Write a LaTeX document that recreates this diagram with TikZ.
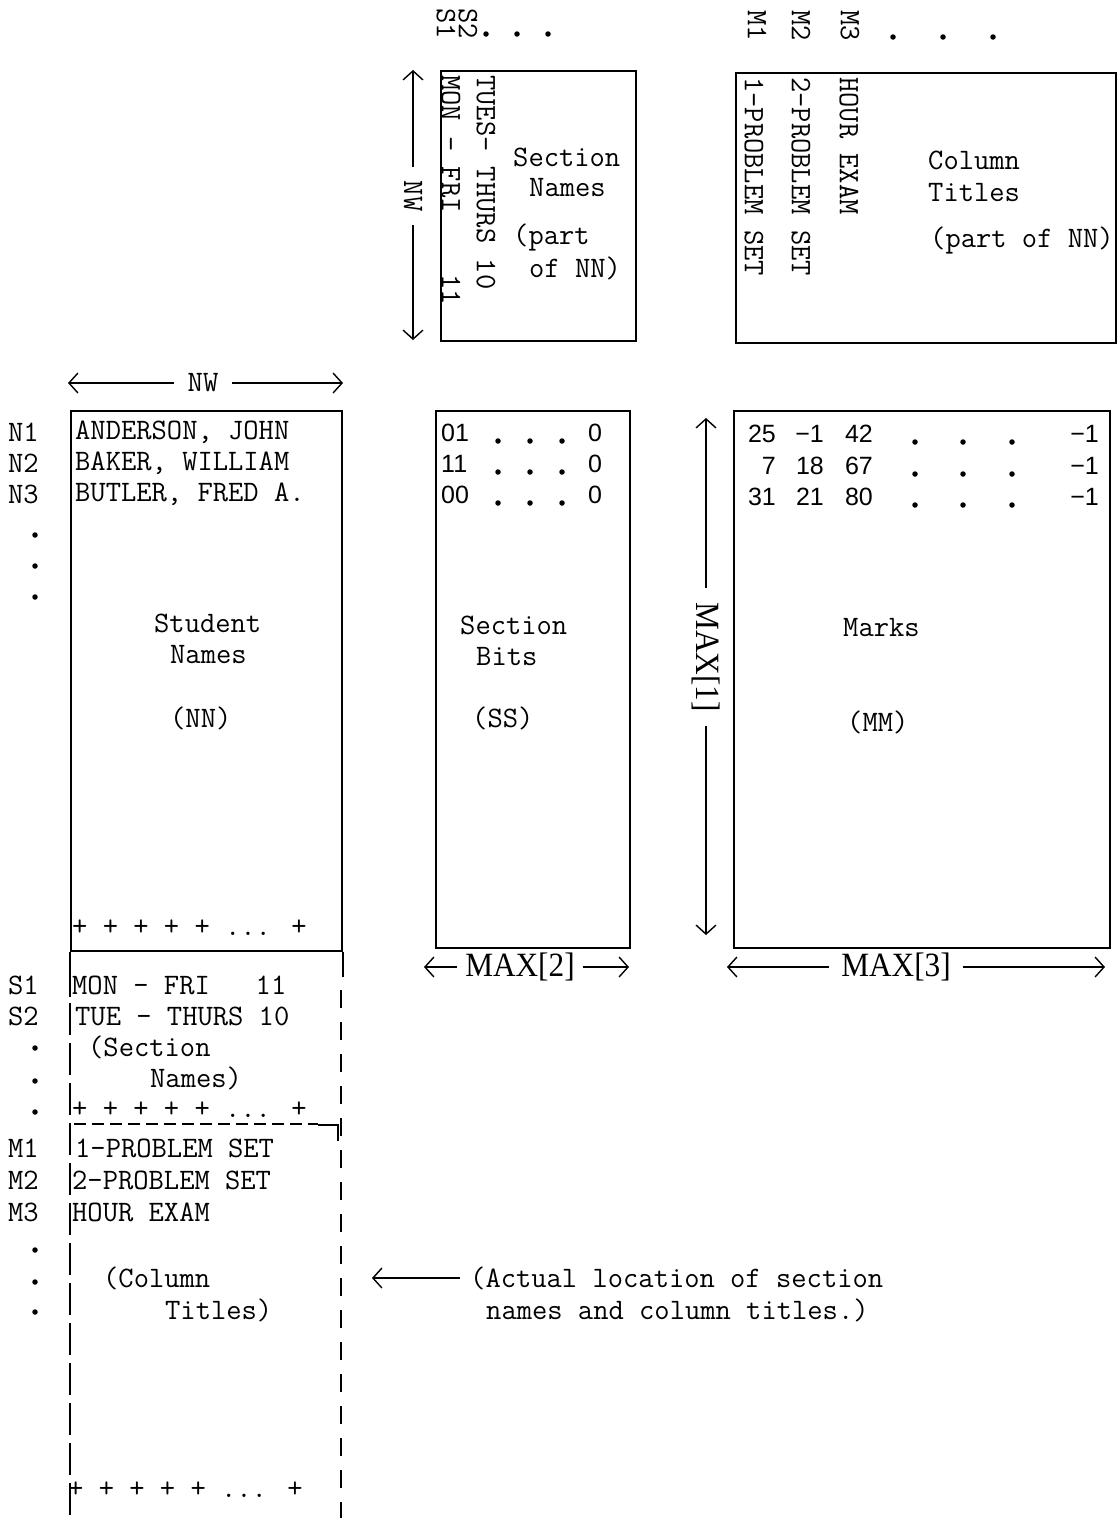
\documentclass[tikz,border=0pt]{standalone}
\usepackage{fontspec}
\usepackage{graphicx}
\newfontfamily\sdig{Liberation Sans}
\newfontfamily\letr{Liberation Serif}
\usetikzlibrary{arrows.meta}
\newcommand\mxl[1]{\scalebox{0.92}[1]{#1}}
\begin{document}
\begin{tikzpicture}[x=1pt,y=-1pt,
  tt/.style={font=\ttfamily\fontsize{29.7}{31}\selectfont, inner sep=0pt},
  dig/.style={font=\sdig\fontsize{25}{31}\selectfont, inner sep=0pt},
  lab/.style={font=\letr\fontsize{34}{34}\selectfont, inner sep=8pt},
  boxs/.style={draw, line width=2pt, inner sep=0pt, anchor=north west},
  arr/.style={line width=1.4pt, -{Straight Barb[length=9pt,width=20pt,line width=1.4pt]}},
  dotn/.style={circle, fill, inner sep=0pt, minimum size=5.5pt}
]
\useasboundingbox (0,0) rectangle (1119,1518);

% ---------- top: section names ----------
\node[tt, rotate=-90, anchor=west] (ls1) at (446,8) {S1};
\node[tt, rotate=-90, anchor=west] (ls2) at (468,8) {S2};
\node[dotn] (sd1) at (486,34) {};
\node[dotn] (sd2) at (517,34) {};
\node[dotn] (sd3) at (548,34) {};

\node[boxs, minimum width=195pt, minimum height=270pt] (snbox) at (440,70) {};
\node[tt, rotate=-90, anchor=west] (mon) at (451,75) {MON - FRI~~~~11};
\node[tt, rotate=-90, anchor=west] (tues) at (486,75) {TUES- THURS 10};
\node[tt, anchor=west] (snt1) at (513,157) {Section};
\node[tt, anchor=west] (snt2) at (529,188) {Names};
\node[tt, anchor=west] (snt3) at (513,237) {(part};
\node[tt, anchor=west] (snt4) at (529,268) {of NN)};

\coordinate (nwt) at (413,70);
\coordinate (nwb) at (413,340);
\node[tt, rotate=-90, inner sep=14pt] (nwv) at (413,196) {NW};
\draw[arr] (nwv) -- (nwt);
\draw[arr] (nwv) -- (nwb);

% ---------- top: column titles ----------
\node[tt, rotate=-90, anchor=west] (lm1) at (757,10) {M1};
\node[tt, rotate=-90, anchor=west] (lm2) at (801,10) {M2};
\node[tt, rotate=-90, anchor=west] (lm3) at (850,10) {M3};
\node[dotn] (md1) at (893,37) {};
\node[dotn] (md2) at (943,37) {};
\node[dotn] (md3) at (993,37) {};

\node[boxs, minimum width=380pt, minimum height=270pt] (ctbox) at (735,72) {};
\node[tt, rotate=-90, anchor=west] (ct1) at (754,77) {1-PROBLEM SET};
\node[tt, rotate=-90, anchor=west] (ct2) at (801,77) {2-PROBLEM SET};
\node[tt, rotate=-90, anchor=west] (ct3) at (849,77) {HOUR EXAM};
\node[tt, anchor=west] (ctt1) at (928,160) {Column};
\node[tt, anchor=west] (ctt2) at (928,193) {Titles};
\node[tt, anchor=west] (ctt3) at (930,240) {(part of NN)};

% ---------- student names ----------
\coordinate (nwl) at (68,383);
\coordinate (nwr) at (343,383);
\node[tt, inner sep=14pt] (nwh) at (203,383) {NW};
\draw[arr] (nwh) -- (nwl);
\draw[arr] (nwh) -- (nwr);

\node[boxs, minimum width=271pt, minimum height=540pt] (nnbox) at (70,410) {};
\node[tt, anchor=west] (ln1) at (8,432) {N1};
\node[tt, anchor=west] (ln2) at (8,463) {N2};
\node[tt, anchor=west] (ln3) at (8,494) {N3};
\node[dotn] (nd1) at (35,535) {};
\node[dotn] (nd2) at (35,566) {};
\node[dotn] (nd3) at (35,597) {};
\node[tt, anchor=west] (nm1) at (75,432) {ANDERSON, JOHN};
\node[tt, anchor=west] (nm2) at (75,463) {BAKER, WILLIAM};
\node[tt, anchor=west] (nm3) at (75,494) {BUTLER, FRED A.};
\node[tt, anchor=west] (stu1) at (154,623) {Student};
\node[tt, anchor=west] (stu2) at (170,655) {Names};
\node[tt, anchor=west] (stu3) at (170,718) {(NN)};
\node[tt, anchor=west] (pl1) at (72,928) {+ + + + + ... +};

% ---------- section bits ----------
\node[boxs, minimum width=194pt, minimum height=537pt] (ssbox) at (435,410) {};
\foreach \y/\v [count=\i] in {433/01, 464/11, 495/00}{
  \node[dig, anchor=west] (bv\i) at (441,\y) {\v};
  \node[dotn] (bda\i) at (498,\y+8) {};
  \node[dotn] (bdb\i) at (530,\y+8) {};
  \node[dotn] (bdc\i) at (562,\y+8) {};
  \node[dig] (bz\i) at (595,\y) {0};
}
\node[tt, anchor=west] (sbt1) at (460,625) {Section};
\node[tt, anchor=west] (sbt2) at (476,657) {Bits};
\node[tt, anchor=west] (sbt3) at (472,718) {(SS)};

\coordinate (m2l) at (424,967);
\coordinate (m2r) at (629,967);
\node[lab] (max2) at (520,967) {\mxl{MAX[2]}};
\draw[arr] (max2) -- (m2l);
\draw[arr] (max2) -- (m2r);

% ---------- marks ----------
\node[boxs, minimum width=376pt, minimum height=537pt] (mmbox) at (733,410) {};
\foreach \y/\a/\b/\c [count=\i] in {434/25/−1/42, 466/7/18/67, 497/31/21/80}{
  \node[dig, anchor=east] (ma\i) at (776,\y) {\a};
  \node[dig, anchor=east] (mb\i) at (824,\y) {\b};
  \node[dig, anchor=east] (mc\i) at (873,\y) {\c};
  \node[dotn] (mda\i) at (915,\y+8) {};
  \node[dotn] (mdb\i) at (963,\y+8) {};
  \node[dotn] (mdc\i) at (1012,\y+8) {};
  \node[dig, anchor=east] (me\i) at (1099,\y) {−1};
}
\node[tt, anchor=west] (mk1) at (843,628) {Marks};
\node[tt, anchor=west] (mk2) at (847,722) {(MM)};

\coordinate (m1t) at (706,418);
\coordinate (m1b) at (706,935);
\node[lab, rotate=-90, inner sep=14pt] (max1) at (706,657) {\mxl{MAX[1]}};
\draw[arr] (max1) -- (m1t);
\draw[arr] (max1) -- (m1b);

\coordinate (m3l) at (727,967);
\coordinate (m3r) at (1105,967);
\node[lab, inner sep=12pt] (max3) at (896,967) {\mxl{MAX[3]}};
\draw[arr] (max3) -- (m3l);
\draw[arr] (max3) -- (m3r);

% ---------- actual location (dashed continuation) ----------
\draw[line width=2pt] (nnbox.south west) -- ++(0,45);
\draw[line width=2pt, dash pattern=on 32pt off 8pt] (70,1003) -- (70,1518);
\draw[line width=2pt] (nnbox.south east) -- ++(0,25);
\draw[line width=2pt, dash pattern=on 18pt off 14pt] (341,990) -- (341,1518);

\node[tt, anchor=west] (bs1) at (8,985) {S1};
\node[tt, anchor=west] (bs1t) at (72,985) {MON - FRI~~~11};
\node[tt, anchor=west] (bs2) at (8,1016) {S2};
\node[tt, anchor=west] (bs2t) at (75,1016) {TUE - THURS 10};
\node[dotn] (bd1) at (35,1048) {};
\node[tt, anchor=west] (bsn1) at (88,1047) {(Section};
\node[dotn] (bd2) at (35,1081) {};
\node[tt, anchor=west] (bsn2) at (150,1078) {Names)};
\node[dotn] (bd3) at (35,1112) {};
\node[tt, anchor=west] (pl2) at (72,1110) {+ + + + + ... +};
\draw[line width=1.5pt, dash pattern=on 12pt off 6pt] (74,1124) -- (318,1124);
\draw[line width=2pt] (318,1125) -- (338,1125) -- (338,1141);

\node[tt, anchor=west] (bm1) at (8,1148) {M1};
\node[tt, anchor=west] (bm1t) at (75,1148) {1-PROBLEM SET};
\node[tt, anchor=west] (bm2) at (8,1180) {M2};
\node[tt, anchor=west] (bm2t) at (72,1180) {2-PROBLEM SET};
\node[tt, anchor=west] (bm3) at (8,1212) {M3};
\node[tt, anchor=west] (bm3t) at (72,1212) {HOUR EXAM};
\node[dotn] (bd4) at (35,1250) {};
\node[dotn] (bd5) at (35,1282) {};
\node[dotn] (bd6) at (35,1312) {};
\node[tt, anchor=west] (bct1) at (103,1278) {(Column};
\node[tt, anchor=west] (bct2) at (165,1310) {Titles)};
\node[tt, anchor=west] (pl3) at (68,1490) {+ + + + + ... +};

\coordinate (ah) at (372,1278);
\node[tt, anchor=west] (act1) at (470,1278) {(Actual location of section};
\node[tt, anchor=west] (act2) at (486,1310) {names and column titles.)};
\draw[arr] ([xshift=-10pt]act1.west) -- (ah);
\end{tikzpicture}
\end{document}
